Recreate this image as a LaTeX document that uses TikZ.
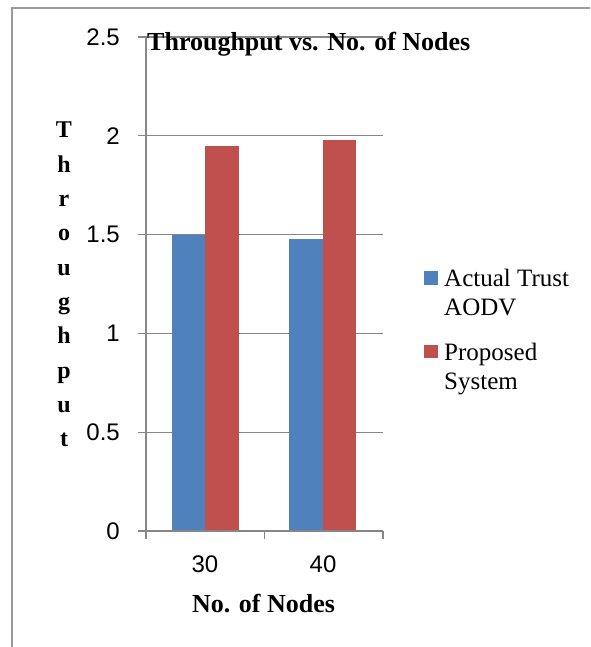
\documentclass[tikz,border=0pt]{standalone}
\usepackage{fontspec}
\setmainfont{Liberation Serif}
\newfontfamily\chartsans{Liberation Sans}
\definecolor{barblue}{HTML}{4F81BD}
\definecolor{barred}{HTML}{C0504D}
\definecolor{axisgray}{HTML}{868686}
\definecolor{framegray}{HTML}{9A9A9A}

\begin{document}
\begin{tikzpicture}[x=1pt,y=-1pt,
    ticklbl/.style={font=\chartsans\fontsize{24}{28}\selectfont,inner sep=0pt},
    catlbl/.style={font=\chartsans\fontsize{24}{28}\selectfont,inner sep=0pt,anchor=base},
    boldlbl/.style={font=\bfseries\fontsize{26}{30}\selectfont,inner sep=0pt},
    legtext/.style={font=\fontsize{25}{28.5}\selectfont,inner sep=0pt,align=left,anchor=north west}]
  \useasboundingbox (0,0) rectangle (590,647);
  % frame round the chart
  \draw[framegray,line width=2pt] (12,647) -- (12,8) -- (590,8);
  \begin{scope}[shift={(146,531)},y=197.6pt]
    \coordinate (O) at (0,0);
    \coordinate (Ytop) at (0,2.5);
    \coordinate (Xend) at (237,0);
    \coordinate (Xmid) at (118.5,0);
    % grid and value labels
    \foreach \v in {0.5,1.0,1.5,2.0,2.5}
      \draw[axisgray,line width=1.4pt] (-8,\v) -- (237,\v);
    \foreach \v/\t in {0/0,0.5/0.5,1/1,1.5/1.5,2/2,2.5/2.5}
      \node[ticklbl,anchor=east] (v\t) at (-26,\v) {\t};
    % bars
    \fill[barblue] (26,0) rectangle (59,1.50);
    \fill[barred] (59,0) rectangle (93,1.95);
    \fill[barblue] (143,0) rectangle (177,1.48);
    \fill[barred] (177,0) rectangle (210,1.98);
    % axes
    \draw[axisgray,line width=1.5pt] (Ytop) -- (O) -- (Xend);
    \draw[axisgray,line width=1.5pt] (-8,0) -- (O) -- ++(0pt,-8pt)
      (Xmid) -- ++(0pt,-8pt) (Xend) -- ++(0pt,-8pt);
  \end{scope}
  \node[catlbl] (c30) at (205,572.5) {30};
  \node[catlbl] (c40) at (323,572.5) {40};
  \node[boldlbl,anchor=base] (xlab) at (263.5,612) {No. of Nodes};
  \node[boldlbl,anchor=base west] (title) at (147,51) {Throughput vs. No. of Nodes};
  \foreach \c [count=\i from 0] in {T,h,r,o,u,g,h,p,u,t}
    \node[boldlbl,font=\bfseries\fontsize{24}{28}\selectfont,anchor=base] (yl\i) at (64,138+34.3*\i) {\c};
  % legend
  \fill[barblue] (424,271) rectangle (438,285);
  \node[legtext] (lega) at (444,269) {Actual Trust\\AODV};
  \fill[barred] (424,345) rectangle (438,358);
  \node[legtext] (legb) at (444,343) {Proposed\\System};
\end{tikzpicture}
\end{document}
